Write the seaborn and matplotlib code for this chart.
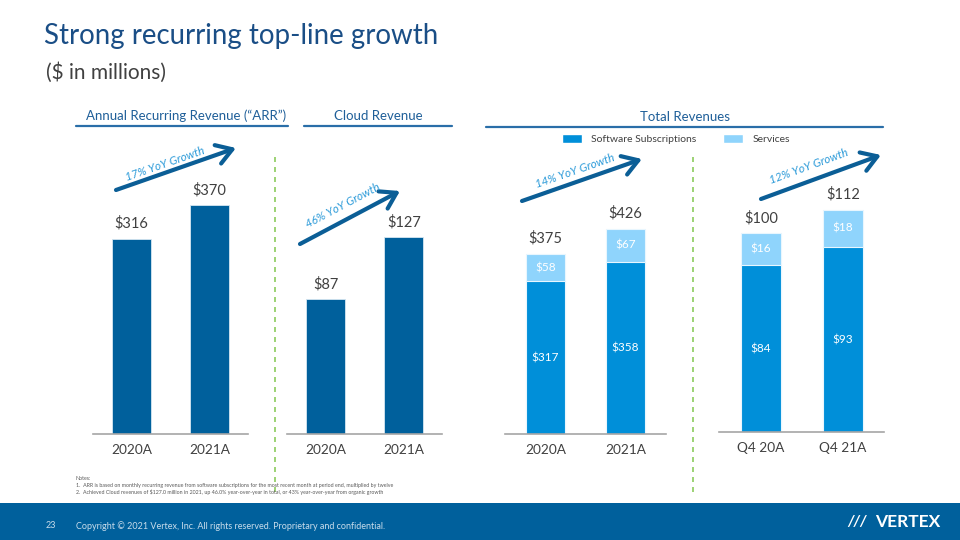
import math
import matplotlib.pyplot as plt
import seaborn as sns
from matplotlib.patches import Patch, Rectangle

# Data
arr_years = ['2020A', '2021A']
arr_values = [316, 370]
cloud_years = ['2020A', '2021A']
cloud_values = [87, 127]
total_years = ['2020A', '2021A']
total_values = [375, 426]
total_software = [317, 358]
total_services = [58, 67]
q4_periods = ['Q4 20A', 'Q4 21A']
q4_values = [100, 112]
q4_software = [84, 93]
q4_services = [16, 18]
growth_labels = ['17% YoY Growth', '46% YoY Growth', '14% YoY Growth', '12% YoY Growth']

DARK = '#00609C'
SOFT = '#008FD9'
SERV = '#8FD4FC'
TITLE = '#1A4E86'
HEAD = '#1F5F99'
ARROW = '#0B5E96'
GROWTH = '#2D9BD9'
TEXT = '#404040'
W, H = 960, 540

sns.set_theme(style='white')
plt.rcParams['font.family'] = ['Lato', 'DejaVu Sans']

fig = plt.figure(figsize=(9.6, 5.4), dpi=100)
fig.patch.set_facecolor('white')


def make_ax(x0, x1, y_top, y_base):
    return fig.add_axes([x0 / W, 1 - y_base / H, (x1 - x0) / W, (y_base - y_top) / H])


def style_ax(ax, xlim, ymax):
    ax.set_xlim(*xlim)
    ax.set_ylim(0, ymax)
    ax.set_xlabel('')
    ax.set_ylabel('')
    ax.set_yticks([])
    for s in ['top', 'right', 'left']:
        ax.spines[s].set_visible(False)
    ax.spines['bottom'].set_color('#A6A6A6')
    ax.spines['bottom'].set_linewidth(1.2)
    ax.tick_params(axis='x', length=0, pad=7.5, labelsize=9.8, labelcolor=TEXT)
    ax.patch.set_alpha(0)


def top_labels(ax, totals):
    for i, v in enumerate(totals):
        ax.annotate(f'${v}', (i, v), xytext=(0, 11), textcoords='offset points',
                    ha='center', va='center', fontsize=10.5, color=TEXT)


# ARR panel
ax1 = make_ax(93, 248, 140, 434)
sns.barplot(x=arr_years, y=arr_values, ax=ax1, color=DARK, saturation=1, width=0.5,
            edgecolor='#D6E6F2', linewidth=0.6)
style_ax(ax1, (-0.494, 1.494), 476)
top_labels(ax1, arr_values)

# Cloud panel
ax2 = make_ax(287, 442, 140, 434)
sns.barplot(x=cloud_years, y=cloud_values, ax=ax2, color=DARK, saturation=1, width=0.5,
            edgecolor='#D6E6F2', linewidth=0.6)
style_ax(ax2, (-0.5, 1.49), 190)
top_labels(ax2, cloud_values)


def stacked(ax, cats, totals, software, services):
    sns.barplot(x=cats, y=totals, ax=ax, color=SERV, saturation=1, width=0.49,
                edgecolor='#E8F6FE', linewidth=0.8)
    sns.barplot(x=cats, y=software, ax=ax, color=SOFT, saturation=1, width=0.49,
                edgecolor='#E8F6FE', linewidth=0.8)
    for i, (tot, sw, sv) in enumerate(zip(totals, software, services)):
        ax.text(i, sw / 2, f'${sw}', ha='center', va='center', fontsize=8.5, color='white')
        ax.text(i, (sw + tot) / 2, f'${sv}', ha='center', va='center', fontsize=8.5, color='white')


ax3 = make_ax(505, 666, 140, 434)
stacked(ax3, total_years, total_values, total_software, total_services)
style_ax(ax3, (-0.506, 1.506), 611)
top_labels(ax3, total_values)

ax4 = make_ax(719, 884, 140, 432)
stacked(ax4, q4_periods, q4_values, q4_software, q4_services)
style_ax(ax4, (-0.512, 1.5), 147)
top_labels(ax4, q4_values)

# Overlay in pixel coordinates for slide decorations
ov = fig.add_axes([0, 0, 1, 1], zorder=5)
ov.set_xlim(0, W)
ov.set_ylim(H, 0)
ov.axis('off')
ov.patch.set_alpha(0)

ov.text(44, 36, 'Strong recurring top-line growth', fontsize=19.9, color=TITLE,
        ha='left', va='center')
ov.text(46, 73, '($ in millions)', fontsize=15, color=TEXT, ha='left', va='center')

# section headers
for label, cx, x0, x1, y in [('Annual Recurring Revenue (\u201cARR\u201d)', 186, 76, 288, 126),
                             ('Cloud Revenue', 378, 304, 452, 126),
                             ('Total Revenues', 685, 486, 883, 127)]:
    ov.text(cx, y - 10, label, fontsize=9.5, color=HEAD, ha='center', va='center')
    ov.plot([x0, x1], [y, y], color='#2A6EA8', lw=1.6)

# dividers
for x in [275, 693]:
    ov.plot([x, x], [157, 492], color='#8CCB5E', lw=1.2, ls=(0, (3, 3)))

# growth arrows
arrows = [((116, 190), (236, 148), (165, 164)),
          ((300, 244), (400, 191), (343, 206)),
          ((522, 201), (642, 159), (575, 171)),
          ((761, 199), (881, 155), (809, 166))]
for lab, (start, end, tc) in zip(growth_labels, arrows):
    ov.annotate('', xy=end, xytext=start,
                arrowprops=dict(arrowstyle='->,head_length=0.55,head_width=0.35', lw=3,
                                color=ARROW, mutation_scale=20, shrinkA=0, shrinkB=0))
    ang = math.degrees(math.atan2(start[1] - end[1], end[0] - start[0]))
    ov.text(tc[0], tc[1], lab, rotation=ang, rotation_mode='anchor', ha='center',
            va='center', fontsize=8.3, style='italic', color=GROWTH)

# legend
fig.legend(handles=[Patch(facecolor=SOFT, label='Software Subscriptions'),
                    Patch(facecolor=SERV, label='Services')],
           loc='center', bbox_to_anchor=(676 / W, 1 - 139 / H), ncol=2, frameon=False,
           fontsize=7.5, handlelength=1.9, handleheight=0.96, handletextpad=0.9,
           columnspacing=2.6, labelcolor=TEXT)

# notes
ov.text(76, 479, 'Notes:', fontsize=3.8, color='#595959', va='center')
ov.text(76, 485.5, '1.  ARR is based on monthly recurring revenue from software subscriptions for the most recent month at period end, multiplied by twelve',
        fontsize=3.8, color='#595959', va='center')
ov.text(76, 492, '2.  Achieved Cloud revenues of $127.0 million in 2021, up 46.0% year-over-year in total, or 43% year-over-year from organic growth',
        fontsize=3.8, color='#595959', va='center')

# footer
ov.add_patch(Rectangle((0, 503), W, 37, facecolor='#00609C', edgecolor='none'))
ov.text(46, 526, '23', fontsize=6.5, color='#C8DCEB', va='center')
ov.text(76, 526, 'Copyright \u00a9 2021 Vertex, Inc. All rights reserved. Proprietary and confidential.',
        fontsize=6.5, color='#C8DCEB', va='center')
ov.text(867, 522, '///', fontsize=11, color='white', fontweight='bold', style='italic',
        ha='right', va='center')
ov.text(940, 522, 'VERTEX', fontsize=12.5, color='white', fontweight='bold', ha='right', va='center')

fig.savefig('out.png', dpi=100)
